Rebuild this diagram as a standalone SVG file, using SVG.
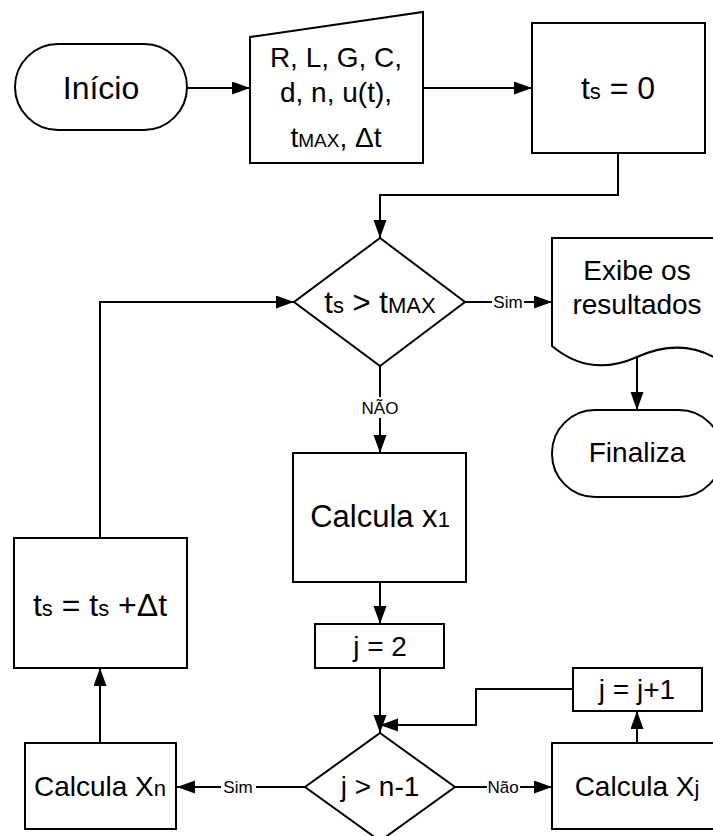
<svg xmlns="http://www.w3.org/2000/svg" width="713" height="836" viewBox="0 0 713 836">
<defs>
<marker id="ah" markerUnits="userSpaceOnUse" markerWidth="19" markerHeight="14" refX="18" refY="6.5" orient="auto">
<path d="M0,0 L18,6.5 L0,13 z" fill="#000"/>
</marker>
<style>
.s{fill:#fff;stroke:#000;stroke-width:2}
.c{fill:none;stroke:#000;stroke-width:2}
.t{font-family:"Liberation Sans",Arial,sans-serif;font-size:28px;fill:#000;text-anchor:middle}
.big{font-size:32px}
.sm{font-size:19px}
.sm2{font-size:22px}
.lb{font-family:"Liberation Sans",Arial,sans-serif;font-size:17px;fill:#000;text-anchor:middle}
.bg{fill:#fff;stroke:none}
</style>
</defs>
<rect width="713" height="836" fill="#fff"/>
<g id="connectors">
<line class="c" x1="187" y1="88" x2="250" y2="88" marker-end="url(#ah)"/>
<line class="c" x1="423" y1="88" x2="532" y2="88" marker-end="url(#ah)"/>
<polyline class="c" points="618,153 618,195 380,195 380,238" marker-end="url(#ah)"/>
<line class="c" x1="465" y1="302" x2="552" y2="302" marker-end="url(#ah)"/>
<rect class="bg" x="492" y="291" width="32" height="21"/>
<text class="lb" x="508" y="308">Sim</text>
<line class="c" x1="637" y1="357" x2="637" y2="410" marker-end="url(#ah)"/>
<line class="c" x1="380" y1="366" x2="380" y2="453" marker-end="url(#ah)"/>
<rect class="bg" x="359" y="397" width="42" height="21"/>
<text class="lb" x="380" y="414">NÃO</text>
<line class="c" x1="380" y1="582" x2="380" y2="624" marker-end="url(#ah)"/>
<line class="c" x1="380" y1="668" x2="380" y2="733" marker-end="url(#ah)"/>
<polyline class="c" points="573,689 476,689 476,725 380,725" marker-end="url(#ah)"/>
<line class="c" x1="455" y1="787" x2="552" y2="787" marker-end="url(#ah)"/>
<rect class="bg" x="487" y="776" width="33" height="21"/>
<text class="lb" x="503" y="793">Não</text>
<line class="c" x1="637" y1="743" x2="637" y2="711" marker-end="url(#ah)"/>
<line class="c" x1="305" y1="787" x2="177" y2="787" marker-end="url(#ah)"/>
<rect class="bg" x="221" y="776" width="35" height="21"/>
<text class="lb" x="238" y="793">Sim</text>
<line class="c" x1="100" y1="743" x2="100" y2="668" marker-end="url(#ah)"/>
<polyline class="c" points="100,538 100,302 294,302" marker-end="url(#ah)"/>
</g>
<g id="inicio">
<rect class="s" x="15" y="44" width="172" height="86" rx="43" ry="43"/>
<text class="t big" x="101" y="99">Início</text>
</g>
<g id="entrada">
<polygon class="s" points="250,37 423,12 423,163 250,163"/>
<text class="t" x="336" y="67">R, L, G, C,</text>
<text class="t" x="336" y="102">d, n, u(t),</text>
<text class="t" x="336" y="147">t<tspan class="sm">MAX</tspan>, Δt</text>
</g>
<g id="ts0">
<rect class="s" x="532" y="23" width="173" height="130"/>
<text class="t big" x="618" y="99">t<tspan class="sm2">s</tspan> = 0</text>
</g>
<g id="cond1">
<polygon class="s" points="380,238 465,302 380,366 294,302"/>
<text class="t" x="380" y="313" style="font-size:31px">t<tspan class="sm2">s</tspan> &gt; t<tspan class="sm2">MAX</tspan></text>
</g>
<g id="exibe">
<path class="s" d="M730,238 H552 V346 Q590,378 637,357 T722,362 L730,366 Z"/>
<text class="t" x="637" y="280">Exibe os</text>
<text class="t" x="637" y="314">resultados</text>
</g>
<g id="finaliza">
<rect class="s" x="552" y="410" width="170" height="87" rx="43" ry="43"/>
<text class="t" x="637" y="462">Finaliza</text>
</g>
<g id="calcx1">
<rect class="s" x="293" y="453" width="173" height="129"/>
<text class="t" x="380" y="527" style="font-size:31px">Calcula x<tspan class="sm2">1</tspan></text>
</g>
<g id="j2">
<rect class="s" x="315" y="624" width="129" height="44"/>
<text class="t" x="380" y="656">j = 2</text>
</g>
<g id="cond2">
<polygon class="s" points="380,733 455,787 380,841 305,787"/>
<text class="t" x="380" y="796">j &gt; n-1</text>
</g>
<g id="calcxj">
<rect class="s" x="552" y="743" width="175" height="86"/>
<text class="t" x="637" y="796">Calcula X<tspan class="sm2">j</tspan></text>
</g>
<g id="jinc">
<rect class="s" x="573" y="668" width="129" height="43"/>
<text class="t" x="637" y="699">j = j+1</text>
</g>
<g id="calcxn">
<rect class="s" x="25" y="743" width="151" height="86"/>
<text class="t" x="100" y="796">Calcula X<tspan class="sm2">n</tspan></text>
</g>
<g id="tsinc">
<rect class="s" x="14" y="538" width="173" height="130"/>
<text class="t" x="100" y="616" style="font-size:32px">t<tspan class="sm2">s</tspan> = t<tspan class="sm2">s</tspan> +Δt</text>
</g>
</svg>
